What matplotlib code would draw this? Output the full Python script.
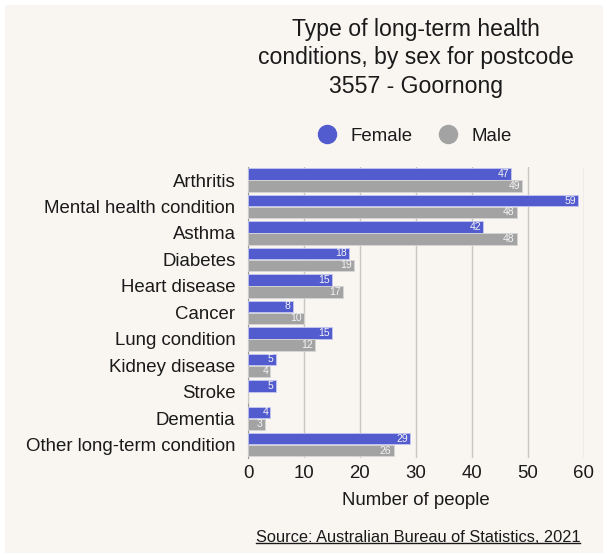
# Long-term health conditions by sex, postcode 3557 - Goornong
import matplotlib.pyplot as plt
from matplotlib.patches import Rectangle
from matplotlib.lines import Line2D
import numpy as np

plt.rcParams['font.family'] = ['Liberation Sans', 'DejaVu Sans']

conditions = ["Arthritis", "Mental health condition", "Asthma", "Diabetes",
              "Heart disease", "Cancer", "Lung condition", "Kidney disease",
              "Stroke", "Dementia", "Other long-term condition"]
female = [47, 59, 42, 18, 15, 8, 15, 5, 5, 4, 29]
male = [49, 48, 48, 19, 17, 10, 12, 4, 0, 3, 26]
xticks = [0, 10, 20, 30, 40, 50, 60]

female_col = "#525ccf"
male_col = "#a3a3a3"
bg = "#f9f6f2"
txt = "#1a1a1a"

fig = plt.figure(figsize=(6.07, 5.55), dpi=100)
fig.patch.set_facecolor("white")
# beige panel with a small white margin
fig.add_artist(Rectangle((5/607, 2/555), 598/607, 548/555, transform=fig.transFigure,
                         facecolor=bg, edgecolor="none", zorder=-10))

ax = fig.add_axes([248/607, 0.1748, 336/607, 0.5247])
ax.set_facecolor(bg)

y = np.arange(len(conditions))
h = 0.43
ax.barh(y - h/2 - 0.01, female, height=h, color=female_col, edgecolor="#c4c8f0", linewidth=0.6, zorder=3)
ax.barh(y + h/2 + 0.01, male, height=h, color=male_col, edgecolor="#d6d6d6", linewidth=0.6, zorder=3)

for i in range(len(conditions)):
    if female[i] > 0:
        ax.text(female[i] - 0.4, y[i] - h/2 - 0.01, str(female[i]), ha="right", va="center",
                fontsize=7.5, color="#f4f4f4", zorder=4)
    if male[i] > 0:
        ax.text(male[i] - 0.4, y[i] + h/2 + 0.01, str(male[i]), ha="right", va="center",
                fontsize=7.5, color="#f4f4f4", zorder=4)

ax.set_ylim(len(conditions) - 0.5, -0.5)
ax.set_xlim(0, 60)
ax.set_yticks(y)
ax.set_yticklabels(conditions, fontsize=13.4, color=txt)
ax.set_xticks(xticks)
ax.set_xticklabels([str(t) for t in xticks], fontsize=13.4, color=txt)
ax.tick_params(length=0, pad=5)
ax.tick_params(axis="y", pad=9)
ax.grid(axis="x", color="#c9c6c2", linewidth=1, zorder=0)
for s in ["top", "right", "bottom"]:
    ax.spines[s].set_visible(False)
ax.spines["left"].set_color("#9a9a9a")
ax.set_xlabel("Number of people", fontsize=13.4, color=txt, labelpad=7)

fig.text(416/607, 1 - 18/555, "Type of long-term health\nconditions, by sex for postcode\n3557 - Goornong",
         ha="center", va="top", fontsize=16.6, color=txt, linespacing=1.3)

handles = [Line2D([], [], marker="o", linestyle="", markersize=13, color=female_col),
           Line2D([], [], marker="o", linestyle="", markersize=13, color=male_col)]
fig.legend(handles, ["Female", "Male"], loc="center", bbox_to_anchor=(410/607, 1 - 136/555),
           ncol=2, frameon=False, fontsize=13.4, handletextpad=0.25, columnspacing=0.9,
           labelcolor=txt)

src = fig.text(580/607, 1 - 537/555, "Source: Australian Bureau of Statistics, 2021",
               ha="right", va="center", fontsize=11.8, color=txt)
fig.canvas.draw()
bb = src.get_window_extent().transformed(fig.transFigure.inverted())
fig.add_artist(Line2D([bb.x0, bb.x1], [bb.y0 + 0.002, bb.y0 + 0.002], transform=fig.transFigure,
                      color=txt, linewidth=1))

fig.savefig("out.png", dpi=100, facecolor=fig.get_facecolor())
